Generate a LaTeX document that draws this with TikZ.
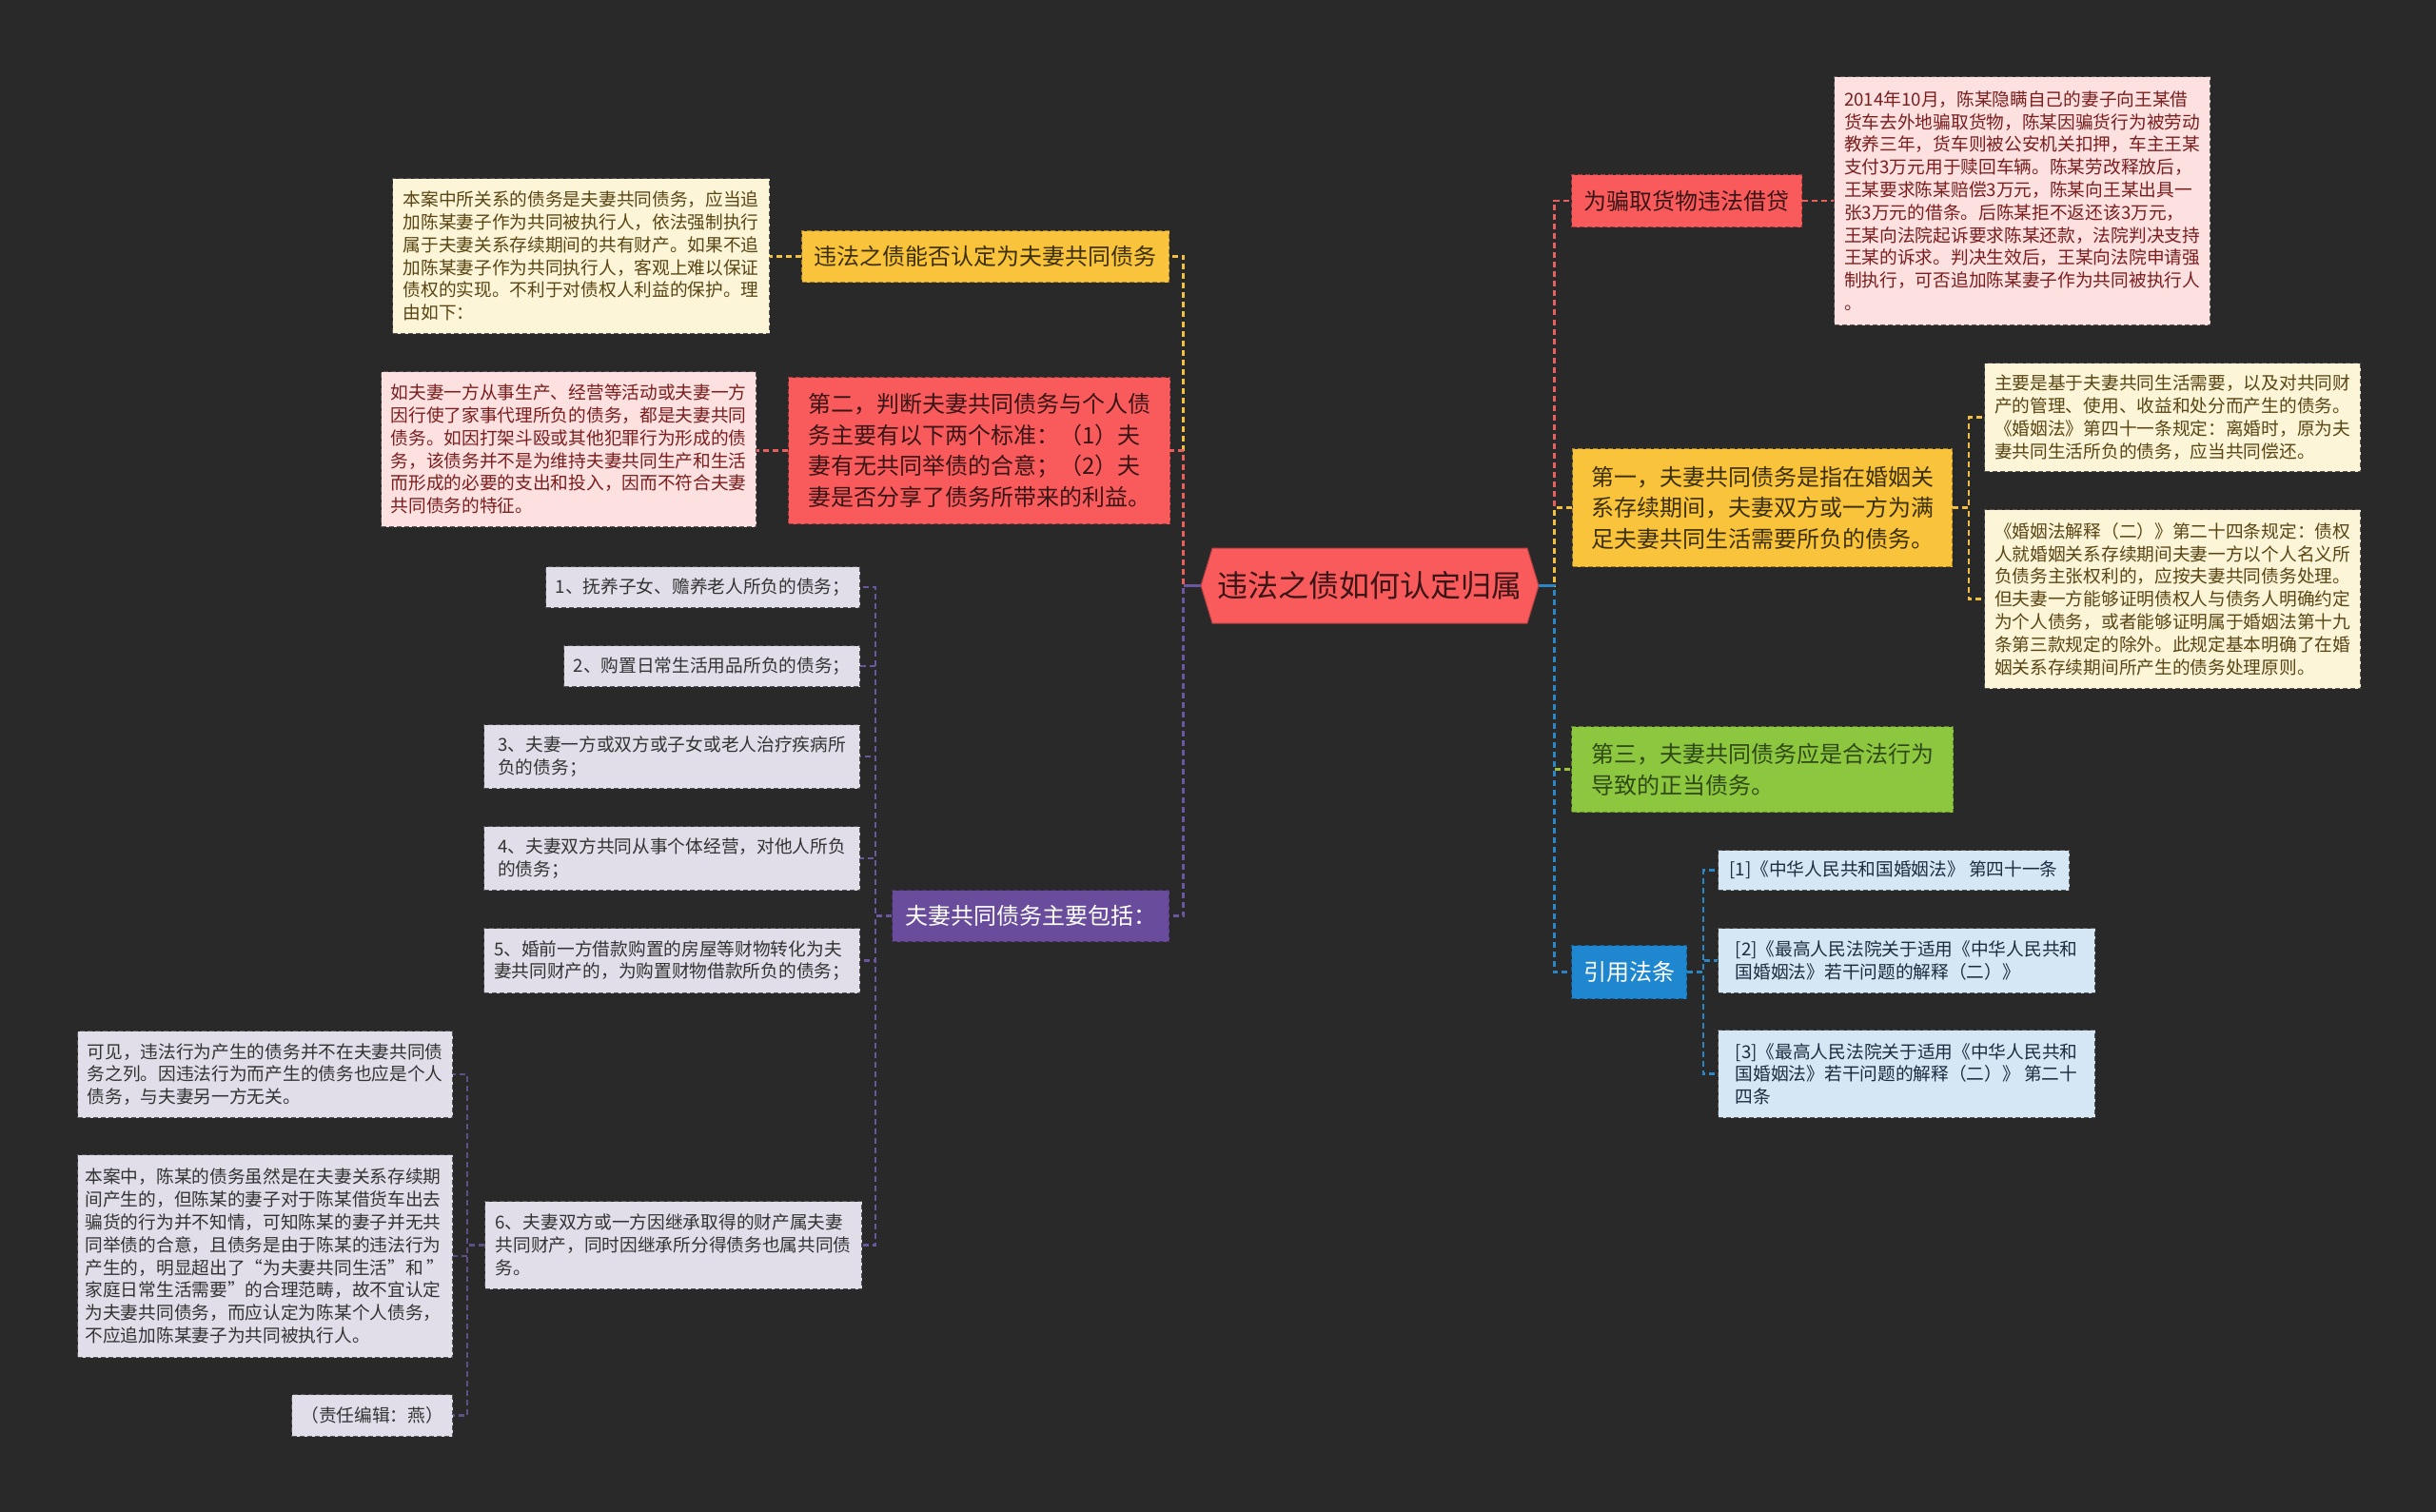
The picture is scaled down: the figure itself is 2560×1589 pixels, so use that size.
\documentclass[tikz,border=0pt]{standalone}
\usepackage{fontspec}
\newfontfamily\cjk{Noto Sans CJK SC}
\definecolor{bg}{HTML}{292929}
\definecolor{fred}{HTML}{F95B5D}
\definecolor{fyel}{HTML}{F9C43C}
\definecolor{fgrn}{HTML}{8DC73F}
\definecolor{fblu}{HTML}{1F87CF}
\definecolor{fpur}{HTML}{6A4C9C}
\definecolor{fpink}{HTML}{FDE1E1}
\definecolor{fcream}{HTML}{FCF5D7}
\definecolor{flav}{HTML}{E1DEEA}
\definecolor{flblu}{HTML}{D5E7F4}
\definecolor{tred}{HTML}{3B1515}
\definecolor{tyel}{HTML}{3D3000}
\definecolor{tgrn}{HTML}{2F4A16}
\definecolor{tpink}{HTML}{7A1E1E}
\definecolor{tcream}{HTML}{5A4514}
\definecolor{tlav}{HTML}{333333}
\definecolor{tlblu}{HTML}{1B2D40}
\definecolor{cred}{HTML}{E8605E}
\definecolor{cyel}{HTML}{F2C040}
\definecolor{cgrn}{HTML}{9CC43C}
\definecolor{cblu}{HTML}{2B86C5}
\definecolor{cpur}{HTML}{6B56A0}
\definecolor{cpurd}{HTML}{5E4F85}
\definecolor{nborder}{HTML}{555555}
\begin{document}
\begin{tikzpicture}[x=0.5pt,y=-0.5pt,
  box/.style={rectangle, anchor=north west, align=left, inner sep=3pt,
    dash pattern=on 2.5pt off 1.5pt, line width=0.6pt},
  mainn/.style={box, font=\cjk\fontsize{12pt}{16.25pt}\selectfont},
  note/.style={box, font=\cjk\fontsize{9.35pt}{11.9pt}\selectfont, draw=nborder},
  rednode/.style={mainn, fill=fred, draw=fred!65!black, text=tred},
  yelnode/.style={mainn, fill=fyel, draw=fyel!65!black, text=tyel},
  grnnode/.style={mainn, fill=fgrn, draw=fgrn!65!black, text=tgrn},
  blunode/.style={mainn, fill=fblu, draw=fblu!65!black, text=white},
  purnode/.style={mainn, fill=fpur, draw=fpur!65!black, text=white},
  pinknote/.style={note, fill=fpink, text=tpink},
  creamnote/.style={note, fill=fcream, text=tcream},
  lavnote/.style={note, fill=flav, text=tlav},
  lblunote/.style={note, fill=flblu, text=tlblu},
  conn/.style={line width=1.2pt, dash pattern=on 3pt off 2pt},
  stub/.style={line width=1.2pt}
]
\fill[bg] (0,0) rectangle (2560,1589);
\useasboundingbox (0,0) rectangle (2560,1589);

% root hexagon
\fill[fred, draw=fred!70!black, line width=0.5pt]
  (1262,615.5) -- (1274,576) -- (1605,576) -- (1617,615.5) -- (1605,655) -- (1274,655) -- cycle;
\node[font=\cjk\fontsize{16pt}{20pt}\selectfont, text=tred, minimum width=177.5pt,
  minimum height=39.5pt, inner sep=0pt] (root) at (1439.5,615.5) {违法之债如何认定归属};

% right side
\node[rednode, minimum width=121pt, minimum height=27.5pt] (r2) at (1651,183) {为骗取货物违法借贷};
\node[pinknote, minimum width=197.5pt, minimum height=130.5pt] (n1) at (1927,80) {2014年10月，陈某隐瞒自己的妻子向王某借\\货车去外地骗取货物，陈某因骗货行为被劳动\\教养三年，货车则被公安机关扣押，车主王某\\支付3万元用于赎回车辆。陈某劳改释放后，\\王某要求陈某赔偿3万元，陈某向王某出具一\\张3万元的借条。后陈某拒不返还该3万元，\\王某向法院起诉要求陈某还款，法院判决支持\\王某的诉求。判决生效后，王某向法院申请强\\制执行，可否追加陈某妻子作为共同被执行人\\。};
\node[yelnode, minimum width=199.5pt, minimum height=62pt] (y2) at (1652,471) {第一，夫妻共同债务是指在婚姻关\\系存续期间，夫妻双方或一方为满\\足夫妻共同生活需要所负的债务。};
\node[creamnote, minimum width=197.5pt, minimum height=57pt] (n2) at (2085,381) {主要是基于夫妻共同生活需要，以及对共同财\\产的管理、使用、收益和处分而产生的债务。\\《婚姻法》第四十一条规定：离婚时，原为夫\\妻共同生活所负的债务，应当共同偿还。};
\node[creamnote, minimum width=197.5pt, minimum height=94pt] (n3) at (2085,535) {《婚姻法解释（二）》第二十四条规定：债权\\人就婚姻关系存续期间夫妻一方以个人名义所\\负债务主张权利的，应按夫妻共同债务处理。\\但夫妻一方能够证明债权人与债务人明确约定\\为个人债务，或者能够证明属于婚姻法第十九\\条第三款规定的除外。此规定基本明确了在婚\\姻关系存续期间所产生的债务处理原则。};
\node[grnnode, minimum width=200.5pt, minimum height=45pt] (g) at (1651,763) {第三，夫妻共同债务应是合法行为\\导致的正当债务。};
\node[blunode, minimum width=60.5pt, minimum height=28pt] (b) at (1651,993) {引用法条};
\node[lblunote, minimum width=184.5pt, minimum height=21pt] (c1) at (1805,893) {[1]《中华人民共和国婚姻法》 第四十一条};
\node[lblunote, minimum width=198pt, minimum height=34pt] (c2) at (1805,975) {[2]《最高人民法院关于适用《中华人民共和\\国婚姻法》若干问题的解释（二）》};
\node[lblunote, minimum width=198pt, minimum height=46pt] (c3) at (1805,1082) {[3]《最高人民法院关于适用《中华人民共和\\国婚姻法》若干问题的解释（二）》 第二十\\四条};

% left side
\node[yelnode, minimum width=193pt, minimum height=27pt] (y1) at (842,242) {违法之债能否认定为夫妻共同债务};
\node[creamnote, minimum width=198pt, minimum height=81.5pt] (a1) at (412,187) {本案中所关系的债务是夫妻共同债务，应当追\\加陈某妻子作为共同被执行人，依法强制执行\\属于夫妻关系存续期间的共有财产。如果不追\\加陈某妻子作为共同执行人，客观上难以保证\\债权的实现。不利于对债权人利益的保护。理\\由如下：};
\node[rednode, minimum width=200.5pt, minimum height=77pt] (r1) at (828,396) {第二，判断夫妻共同债务与个人债\\务主要有以下两个标准：（1）夫\\妻有无共同举债的合意；（2）夫\\妻是否分享了债务所带来的利益。};
\node[pinknote, minimum width=197pt, minimum height=81.5pt] (p1) at (400,390) {如夫妻一方从事生产、经营等活动或夫妻一方\\因行使了家事代理所负的债务，都是夫妻共同\\债务。如因打架斗殴或其他犯罪行为形成的债\\务，该债务并不是为维持夫妻共同生产和生活\\而形成的必要的支出和投入，因而不符合夫妻\\共同债务的特征。};
\node[purnode, minimum width=145.5pt, minimum height=27pt] (pu) at (937,935) {夫妻共同债务主要包括：};
\node[lavnote, minimum width=165pt, minimum height=21.5pt] (l1) at (573,595) {1、抚养子女、赡养老人所负的债务；};
\node[lavnote, minimum width=155.5pt, minimum height=21.5pt] (l2) at (592,678) {2、购置日常生活用品所负的债务；};
\node[lavnote, minimum width=197.5pt, minimum height=33.5pt] (l3) at (508,761) {3、夫妻一方或双方或子女或老人治疗疾病所\\负的债务；};
\node[lavnote, minimum width=197.5pt, minimum height=33.5pt] (l4) at (508,868) {4、夫妻双方共同从事个体经营，对他人所负\\的债务；};
\node[lavnote, minimum width=197.5pt, minimum height=34pt] (l5) at (508,975) {5、婚前一方借款购置的房屋等财物转化为夫\\妻共同财产的，为购置财物借款所负的债务；};
\node[lavnote, minimum width=198pt, minimum height=46pt] (l6) at (509,1262) {6、夫妻双方或一方因继承取得的财产属夫妻\\共同财产，同时因继承所分得债务也属共同债\\务。};
\node[lavnote, minimum width=197pt, minimum height=45.5pt] (k1) at (81,1083) {可见，违法行为产生的债务并不在夫妻共同债\\务之列。因违法行为而产生的债务也应是个人\\债务，与夫妻另一方无关。};
\node[lavnote, minimum width=197pt, minimum height=106.5pt] (k2) at (81,1213) {本案中，陈某的债务虽然是在夫妻关系存续期\\间产生的，但陈某的妻子对于陈某借货车出去\\骗货的行为并不知情，可知陈某的妻子并无共\\同举债的合意，且债务是由于陈某的违法行为\\产生的，明显超出了“为夫妻共同生活”和 ”\\家庭日常生活需要”的合理范畴，故不宜认定\\为夫妻共同债务，而应认定为陈某个人债务，\\不应追加陈某妻子为共同被执行人。};
\node[lavnote, minimum width=84.5pt, minimum height=22pt] (k3) at (306,1465) {（责任编辑：燕）};

% connectors right
\draw[conn, cred] (root.east) -- ++(16,0) |- (r2.west);
\draw[conn, cyel] (root.east) -- ++(16,0) |- (y2.west);
\draw[conn, cgrn] (root.east) -- ++(16,0) |- (g.west);
\draw[conn, cblu] (root.east) -- ++(16,0) |- (b.west);
\draw[stub, cblu] (root.east) -- ++(16,0);
\draw[conn, cred] (r2.east) -- (r2.east -| n1.west);
\draw[conn, cyel] (y2.east) -- ++(17,0) |- (n2.west);
\draw[conn, cyel] (y2.east) -- ++(17,0) |- (n3.west);
\draw[conn, cblu] (b.east) -- ++(17,0) |- (c1.west);
\draw[conn, cblu] (b.east) -- ++(17,0) |- (c2.west);
\draw[conn, cblu] (b.east) -- ++(17,0) |- (c3.west);

% connectors left
\draw[conn, cyel] (root.west) -- ++(-18,0) |- (y1.east);
\draw[conn, cred] (root.west) -- ++(-18,0) |- (r1.east);
\draw[conn, cpur] (root.west) -- ++(-18,0) |- (pu.east);
\draw[stub, cpur] (root.west) -- ++(-18,0);
\draw[conn, cyel] (y1.west) -- (y1.west -| a1.east);
\draw[conn, cred] (r1.west) -- (r1.west -| p1.east);
\foreach \c in {l1,l2,l3,l4,l5,l6} {
  \draw[conn, cpur] (pu.west) -- ++(-17,0) |- (\c.east);
}
\foreach \c in {k1,k2,k3} {
  \draw[conn, cpurd] (l6.west) -- ++(-18,0) |- (\c.east);
}
\end{tikzpicture}
\end{document}
